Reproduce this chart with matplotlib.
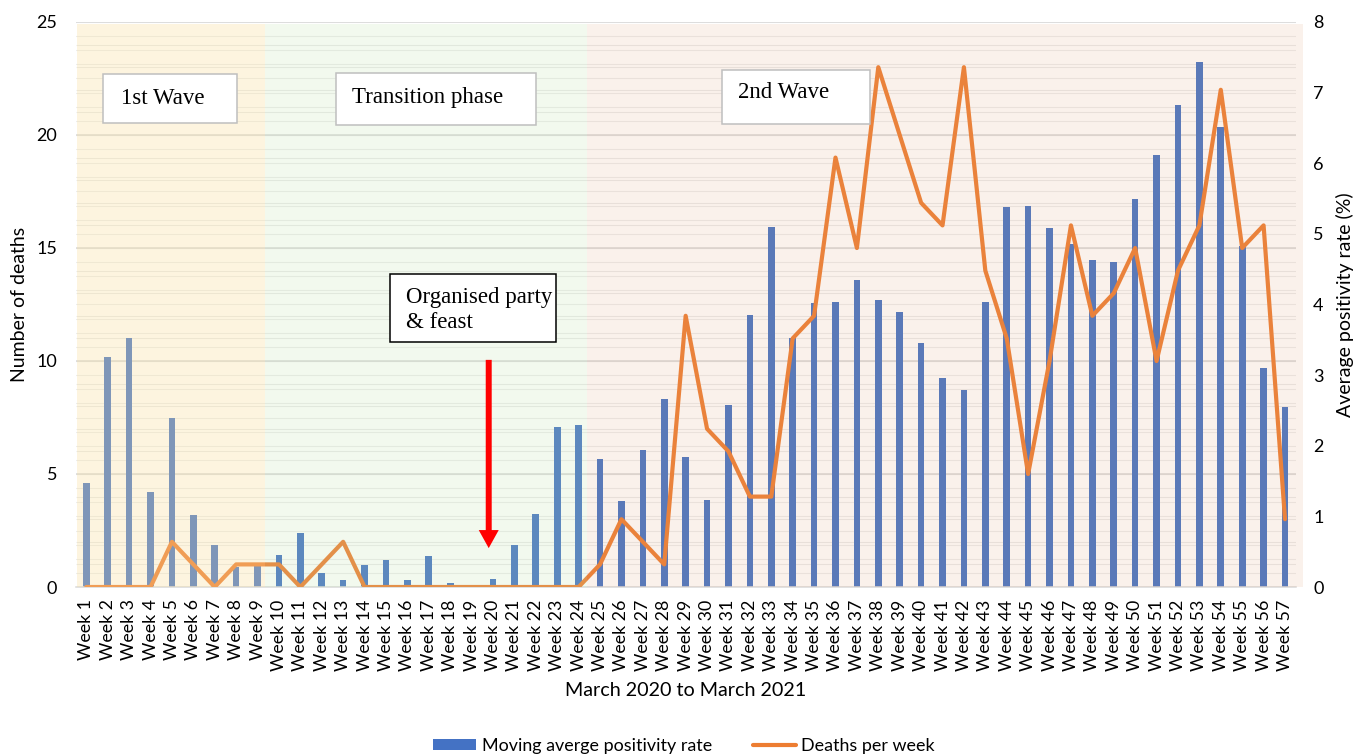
import numpy as np
import matplotlib
matplotlib.use("Agg")
import matplotlib.pyplot as plt
from matplotlib.patches import Rectangle, FancyArrowPatch, Patch
from matplotlib.lines import Line2D
from matplotlib.ticker import MultipleLocator

# ---- data -------------------------------------------------------------
weeks = [f"Week {i}" for i in range(1, 58)]

# moving average positivity rate (%), right axis
positivity = [1.47, 3.26, 3.53, 1.35, 2.39, 1.02, 0.59, 0.28, 0.30, 0.45,
              0.76, 0.20, 0.10, 0.31, 0.38, 0.10, 0.44, 0.06, 0.00, 0.11,
              0.59, 1.04, 2.27, 2.29, 1.81, 1.22, 1.94, 2.66, 1.84, 1.23,
              2.57, 3.85, 5.10, 3.52, 4.02, 4.03, 4.34, 4.07, 3.90, 3.45,
              2.96, 2.79, 4.03, 5.38, 5.40, 5.09, 4.85, 4.63, 4.60, 5.50,
              6.12, 6.83, 7.43, 6.51, 4.83, 3.10, 2.55]

# deaths per week, left axis
deaths = [0, 0, 0, 0, 2, 1, 0, 1, 1, 1,
          0, 1, 2, 0, 0, 0, 0, 0, 0, 0,
          0, 0, 0, 0, 1, 3, 2, 1, 12, 7,
          6, 4, 4, 11, 12, 19, 15, 23, 20, 17,
          16, 23, 14, 11, 5, 10, 16, 12, 13, 15,
          10, 14, 16, 22, 15, 16, 3]

phase_names = ["1st Wave", "Transition phase", "2nd Wave"]
phase_bounds = [(-0.45, 8.35), (8.35, 23.38), (23.38, 56.85)]
event_label = "Organised party\n& feast"
event_week = 18.8

# ---- style ------------------------------------------------------------
W, H = 1354, 755
SANS = ["Lato", "DejaVu Sans"]
SERIF = ["Liberation Serif", "DejaVu Serif"]
BLUE = "#4472C4"
ORANGE = "#ED7D31"
plt.rcParams["font.family"] = SANS

fig = plt.figure(figsize=(W / 100, H / 100), dpi=100)


def fx(px):
    return px / W


def fy(py):
    return 1 - py / H


left_px, right_px, top_px, bot_px = 75.6, 1295.7, 22, 587
ax = fig.add_axes([fx(left_px), fy(bot_px), fx(right_px - left_px),
                   (bot_px - top_px) / H])
axd = ax.twinx()

x = np.arange(len(weeks))

# positivity bars on the primary axes (scale shown on the right)
ax.bar(x, positivity, width=0.31, color=BLUE, zorder=2)
ax.set_ylim(0, 8)
ax.set_xlim(-0.5, len(weeks) - 0.5)
ax.yaxis.set_major_locator(MultipleLocator(1))
ax.yaxis.set_minor_locator(MultipleLocator(0.2))
ax.set_axisbelow(True)
ax.grid(which="both", axis="y", color="#EDEDED", lw=0.75)
ax.yaxis.tick_right()
ax.yaxis.set_label_position("right")

# deaths line on the twin axes (scale shown on the left)
axd.plot(x, deaths, color=ORANGE, lw=3.0, solid_joinstyle="round",
         solid_capstyle="round", zorder=3)
axd.set_ylim(0, 25)
axd.yaxis.set_major_locator(MultipleLocator(5))
axd.yaxis.tick_left()
axd.yaxis.set_label_position("left")

# horizontal grid for the deaths scale, kept underneath the bars
ytr = axd.get_yaxis_transform()
ax.hlines(np.arange(1, 25), 0, 1, transform=ytr, color="#EAEAEA",
          lw=0.75, zorder=0.6)
ax.hlines(np.arange(5, 26, 5), 0, 1, transform=ytr, color="#D9D9D9",
          lw=1.1, zorder=0.7)

for a in (ax, axd):
    for s in a.spines.values():
        s.set_visible(False)
ax.spines["bottom"].set_visible(True)
ax.spines["bottom"].set_color("#D9D9D9")
ax.spines["bottom"].set_linewidth(1.1)

ax.set_xticks(x)
ax.set_xticklabels(weeks, rotation=90, fontsize=12.8)
ax.tick_params(axis="x", length=0, pad=9.0)
ax.tick_params(axis="y", which="both", length=0, pad=12.5, labelsize=13)
axd.tick_params(axis="y", length=0, pad=13.4, labelsize=13)

ax.set_xlabel("March 2020 to March 2021", fontsize=14.2)
ax.xaxis.label.set_va("center")
ax.xaxis.set_label_coords(0.5, -(690 - bot_px) / (bot_px - top_px))

axd.set_ylabel("Number of deaths", fontsize=14)
axd.yaxis.label.set_va("center")
axd.yaxis.set_label_coords((19.5 - left_px) / (right_px - left_px), 0.5)
ax.set_ylabel("Average positivity rate (%)", fontsize=14)
ax.yaxis.label.set_va("center")
ax.yaxis.set_label_coords((1345 - left_px) / (right_px - left_px), 0.5)

# translucent phase shading laid over the data
shades = [((249 / 255, 224 / 255, 160 / 255), 0.33),
          ((190 / 255, 225 / 255, 170 / 255), 0.20),
          ((222 / 255, 162 / 255, 122 / 255), 0.15)]
for (x0, x1), (col, al) in zip(phase_bounds, shades):
    axd.axvspan(x0, x1, ymin=0, ymax=0.996, color=col, alpha=al, lw=0,
                zorder=5, clip_on=False)

# event arrow
arrow = FancyArrowPatch((event_week, 10.05), (event_week, 1.72),
                        arrowstyle="simple,head_width=14.4,head_length=13,tail_width=4.3",
                        mutation_scale=1, color="#FF0000", lw=0,
                        shrinkA=0, shrinkB=0, zorder=6)
axd.add_patch(arrow)

# text boxes
boxes = [
    ((103, 74, 237, 123), "#BFBFBF", [(phase_names[0], 121, 98)]),
    ((336, 73, 536, 125), "#BFBFBF", [(phase_names[1], 352, 98)]),
    ((722, 70, 870, 124), "#BFBFBF", [(phase_names[2], 738, 93)]),
    ((390, 274, 556, 342), "#000000",
     [(event_label.split("\n")[0], 406, 297),
      (event_label.split("\n")[1], 406, 323)]),
]
for (x0, y0, x1, y1), ec, lines in boxes:
    fig.add_artist(Rectangle((fx(x0), fy(y1)), fx(x1 - x0), (y1 - y0) / H,
                             transform=fig.transFigure, facecolor="white",
                             edgecolor=ec, lw=1.1, zorder=10))
    for txt, tx, ty in lines:
        fig.text(fx(tx), fy(ty), txt, family=SERIF, fontsize=16.5,
                 ha="left", va="center", color="black", zorder=11)

# legend
handles = [Patch(facecolor=BLUE, edgecolor="none"),
           Line2D([0], [0], color=ORANGE, lw=3.0, solid_capstyle="round")]
fig.legend(handles, ["Moving averge positivity rate", "Deaths per week"],
           loc="center", bbox_to_anchor=(fx(684), fy(746)), ncol=2,
           frameon=False, fontsize=12.85, handlelength=2.4, handleheight=0.6,
           handletextpad=0.3, columnspacing=2.3, borderaxespad=0)

fig.savefig("out.png", dpi=100)
